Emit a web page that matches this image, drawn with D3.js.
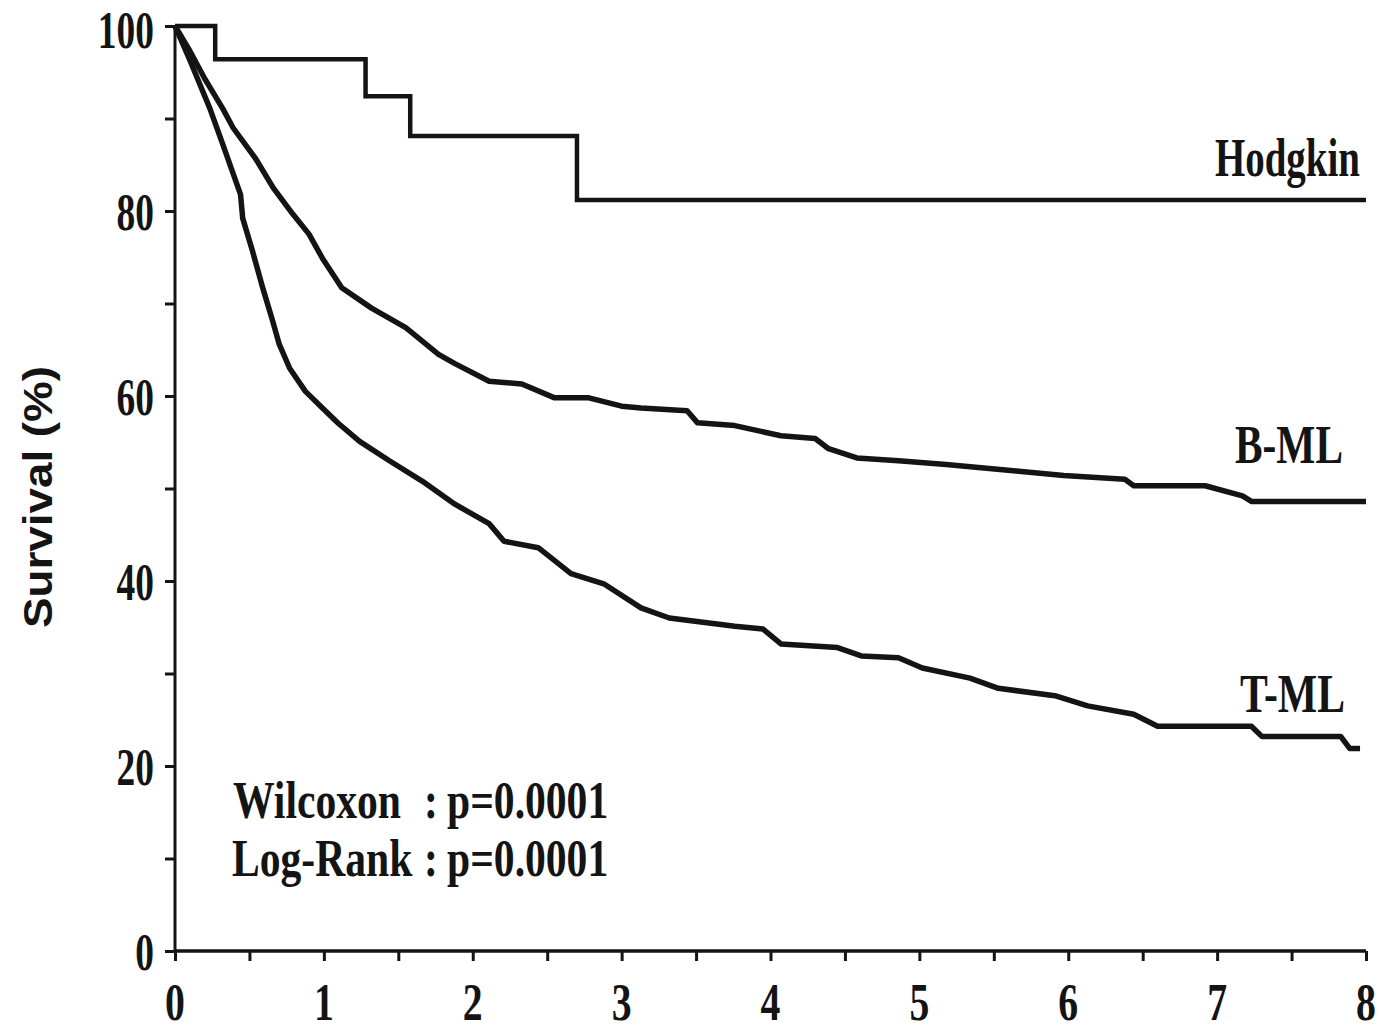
<!DOCTYPE html>
<html><head><meta charset="utf-8">
<script src="https://cdn.jsdelivr.net/npm/d3@7"></script>
<style>body{margin:0;background:#fff}</style>
</head><body><svg id="c" width="1380" height="1032"></svg>
<script>
// ---- data ----
const hodgkinT = [0, 0.27, 1.28, 1.58, 2.70, 8.0];
const hodgkinS = [100, 96.4, 92.4, 88.1, 81.2, 81.2];

const bmlT = [0, 0.10, 0.20, 0.32, 0.39, 0.54, 0.66, 0.79, 0.90, 0.99, 1.12, 1.32, 1.55, 1.77, 1.88, 2.11, 2.33, 2.55, 2.78, 3.00, 3.13, 3.44, 3.51, 3.76, 4.07, 4.30, 4.39, 4.58, 4.86, 5.18, 5.65, 5.97, 6.38, 6.44, 6.92, 7.17, 7.23, 8.0];
const bmlS = [100, 97.3, 94.3, 91.1, 89.0, 85.7, 82.5, 79.7, 77.5, 74.9, 71.7, 69.5, 67.4, 64.5, 63.5, 61.6, 61.3, 59.8, 59.8, 58.9, 58.7, 58.4, 57.1, 56.8, 55.7, 55.4, 54.3, 53.3, 53.0, 52.6, 51.9, 51.4, 51.0, 50.3, 50.3, 49.2, 48.6, 48.6];

const tmlT = [0, 0.10, 0.234, 0.321, 0.44, 0.455, 0.52, 0.589, 0.656, 0.70, 0.77, 0.876, 0.99, 1.10, 1.24, 1.44, 1.66, 1.88, 2.11, 2.21, 2.44, 2.66, 2.88, 3.13, 3.32, 3.76, 3.95, 4.07, 4.45, 4.61, 4.86, 5.02, 5.34, 5.53, 5.91, 6.13, 6.44, 6.60, 7.23, 7.30, 7.83, 7.89, 7.96];
const tmlS = [100, 96.3, 91.1, 87.2, 81.8, 79.2, 75.7, 71.7, 68.1, 65.6, 63.0, 60.5, 58.7, 57.0, 55.1, 53.0, 50.8, 48.3, 46.2, 44.3, 43.6, 40.8, 39.7, 37.1, 36.0, 35.1, 34.8, 33.2, 32.8, 31.9, 31.7, 30.6, 29.5, 28.4, 27.6, 26.5, 25.6, 24.3, 24.3, 23.2, 23.2, 21.9, 21.9];

const xTickLabels = [0, 1, 2, 3, 4, 5, 6, 7, 8];
const xMinorTicks = [0, 0.5, 1, 1.5, 2, 2.5, 3, 3.5, 4, 4.5, 5, 5.5, 6, 6.5, 7, 7.5, 8];
const yTickLabels = [0, 20, 40, 60, 80, 100];
const yMinorTicks = [0, 10, 20, 30, 40, 50, 60, 70, 80, 90, 100];

const curveLabels = ["Hodgkin", "B-ML", "T-ML"];
const testNames = ["Wilcoxon", "Log-Rank"];
const testValues = ["p=0.0001", "p=0.0001"];
const yTitle = "Survival (%)";

// ---- drawing ----
const svg = d3.select("#c");
const ink = "#141414";
const serif = "'Liberation Serif','Times New Roman',serif";
const x = d3.scaleLinear().domain([0, 8]).range([175, 1366]);
const y = d3.scaleLinear().domain([0, 100]).range([951, 26]);

// axes
const xAxis = d3.axisBottom(x).tickValues(xMinorTicks).tickSize(10).tickFormat("");
const gx = svg.append("g").attr("transform", "translate(0," + y(0) + ")").call(xAxis);
gx.select(".domain").attr("stroke", ink).attr("stroke-width", 3.5).attr("d", "M" + x(0) + ",0H" + x(8));
gx.selectAll(".tick line").attr("stroke", ink).attr("stroke-width", 3);

const yAxis = d3.axisLeft(y).tickValues(yMinorTicks).tickSize(10).tickFormat("");
const gy = svg.append("g").attr("transform", "translate(" + x(0) + ",0)").call(yAxis);
gy.select(".domain").attr("stroke", ink).attr("stroke-width", 3).attr("d", "M0," + y(0) + "V" + y(100));
gy.selectAll(".tick line").attr("stroke", ink).attr("stroke-width", 3);

// tick labels (condensed bold serif)
xTickLabels.forEach(v => {
  svg.append("g").attr("transform", "translate(" + x(v) + ",1020) scale(0.75,1)")
    .append("text").attr("text-anchor", "middle").attr("font-family", serif)
    .attr("font-weight", "bold").attr("font-size", 53).attr("fill", ink).text(v);
});
yTickLabels.forEach(v => {
  svg.append("g").attr("transform", "translate(154," + Math.max(y(v) + 19, 48) + ") scale(0.72,1)")
    .append("text").attr("text-anchor", "end").attr("font-family", serif)
    .attr("font-weight", "bold").attr("font-size", 52).attr("fill", ink).text(v);
});

// y title
svg.append("text").attr("transform", "translate(52,497) rotate(-90)")
  .attr("text-anchor", "middle").attr("font-family", "'Liberation Sans',Arial,sans-serif")
  .attr("font-weight", "bold").attr("font-size", 40).attr("fill", ink)
  .attr("textLength", 262).attr("lengthAdjust", "spacingAndGlyphs").text(yTitle);

// curves
const lineStep = d3.line().x(d => x(d[0])).y(d => y(d[1])).curve(d3.curveStepAfter);
const lineLin = d3.line().x(d => x(d[0])).y(d => y(d[1])).curve(d3.curveLinear);
svg.append("path").datum(d3.zip(hodgkinT, hodgkinS)).attr("d", lineStep)
  .attr("fill", "none").attr("stroke", ink).attr("stroke-width", 4.5);
svg.append("path").datum(d3.zip(bmlT, bmlS)).attr("d", lineLin)
  .attr("fill", "none").attr("stroke", ink).attr("stroke-width", 5.5).attr("stroke-linejoin", "round");
svg.append("path").datum(d3.zip(tmlT, tmlS)).attr("d", lineLin)
  .attr("fill", "none").attr("stroke", ink).attr("stroke-width", 5.5).attr("stroke-linejoin", "round");

// curve labels: condensed by measured scale
const labelPos = [[1215, 176, 145], [1235, 463, 108], [1240, 712, 105]];
curveLabels.forEach((t, i) => {
  const g = svg.append("g");
  const tx = g.append("text").attr("font-family", serif).attr("font-weight", "bold")
    .attr("font-size", 55).attr("fill", ink).text(t);
  const w = tx.node().getComputedTextLength();
  g.attr("transform", "translate(" + labelPos[i][0] + "," + labelPos[i][1] + ") scale(" + (labelPos[i][2] / w) + ",1)");
});

// test annotations: one condensed text block
const sx = 0.80;
const rowY = [818, 876];
const nameX = [233, 232];
const ann = svg.append("g").attr("transform", "scale(" + sx + ",1)")
  .append("text").attr("font-family", serif).attr("font-weight", "bold")
  .attr("font-size", 52).attr("fill", ink);
testNames.forEach((t, i) => {
  ann.append("tspan").attr("x", nameX[i] / sx).attr("y", rowY[i]).text(t);
  ann.append("tspan").attr("x", 424 / sx).attr("y", rowY[i]).text(":");
  ann.append("tspan").attr("x", 447 / sx).attr("y", rowY[i]).text(testValues[i]);
});
</script>
</body></html>
